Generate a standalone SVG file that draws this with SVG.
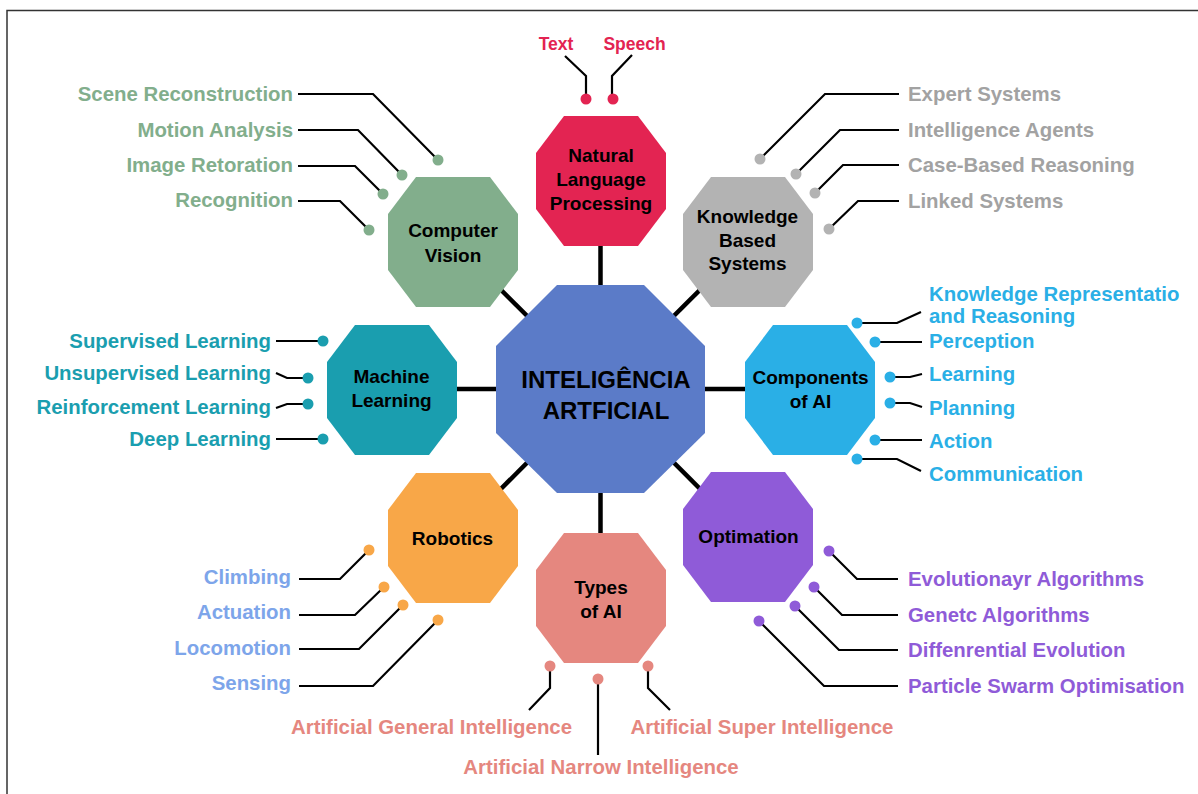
<svg xmlns="http://www.w3.org/2000/svg" width="1198" height="794" viewBox="0 0 1198 794">
  <style>
    text { font-family: "Liberation Sans", Arial, sans-serif; font-weight: bold; }
    .node-label { font-size: 19px; fill: #000; text-anchor: middle; }
    .hub-label { font-size: 24px; fill: #000; text-anchor: middle; }
    .leaf { font-size: 20.4px; }
    .end { text-anchor: end; }
    .mid { text-anchor: middle; }
    .spoke { stroke: #000; stroke-width: 4.5; fill: none; }
    .lead { stroke: #000; stroke-width: 2.2; fill: none; stroke-linejoin: miter; }
    .c-nlp { fill: #E32452; }
    .c-cv { fill: #82AE8C; }
    .c-kbs { fill: #B3B3B3; }
    .c-kbs-t { fill: #A2A2A2; }
    .c-comp { fill: #2AAFE6; }
    .c-opt { fill: #8F5BD8; }
    .c-types { fill: #E5877F; }
    .c-rob { fill: #F8A748; }
    .c-rob-t { fill: #7DA5EA; }
    .c-ml { fill: #1A9EAF; }
    .c-hub { fill: #5B7BC8; }
  </style>
  <defs>
    <!-- satellite octagon, 130 x 130 -->
    <polygon id="oct" points="28,0 102,0 130,37 130,93 102,130 28,130 0,93 0,37"/>
  </defs>

  <rect width="1198" height="794" fill="#fff"/>
  <!-- frame -->
  <path d="M7,794 V10.5 H1198" fill="none" stroke="#333" stroke-width="1.5"/>

  <g id="connectors">
    <!-- hub spokes -->
    <line class="spoke" x1="600.5" y1="389" x2="600.5" y2="181"/>
    <line class="spoke" x1="600.5" y1="389" x2="600.5" y2="598"/>
    <line class="spoke" x1="600.5" y1="389" x2="392" y2="389"/>
    <line class="spoke" x1="600.5" y1="389" x2="810" y2="389"/>
    <line class="spoke" x1="600.5" y1="389" x2="453" y2="242"/>
    <line class="spoke" x1="600.5" y1="389" x2="748" y2="242"/>
    <line class="spoke" x1="600.5" y1="389" x2="453" y2="537"/>
    <line class="spoke" x1="600.5" y1="389" x2="748" y2="537"/>

    <!-- NLP leaders -->
    <polyline class="lead" points="565,56 586,76 586,98"/>
    <polyline class="lead" points="632,55 612,76 612,98"/>
    <circle class="c-nlp" cx="586" cy="99" r="5.5"/>
    <circle class="c-nlp" cx="613" cy="99" r="5.5"/>

    <!-- Computer Vision leaders -->
    <polyline class="lead" points="298,94 373,94 438,160"/>
    <polyline class="lead" points="298,130 358,130 402,175"/>
    <polyline class="lead" points="298,166 355,166 383,194"/>
    <polyline class="lead" points="298,201 340,201 369,230"/>
    <circle class="c-cv" cx="438" cy="160" r="5.5"/>
    <circle class="c-cv" cx="402" cy="175" r="5.5"/>
    <circle class="c-cv" cx="383" cy="194" r="5.5"/>
    <circle class="c-cv" cx="369" cy="230" r="5.5"/>

    <!-- Knowledge Based Systems leaders -->
    <polyline class="lead" points="899,94 825,94 760,159"/>
    <polyline class="lead" points="899,130 840,130 796,174"/>
    <polyline class="lead" points="899,165 843,165 815,193"/>
    <polyline class="lead" points="899,201 858,201 829,229"/>
    <circle class="c-kbs" cx="760" cy="159" r="5.5"/>
    <circle class="c-kbs" cx="796" cy="174" r="5.5"/>
    <circle class="c-kbs" cx="815" cy="193" r="5.5"/>
    <circle class="c-kbs" cx="829" cy="229" r="5.5"/>

    <!-- Components of AI leaders -->
    <polyline class="lead" points="857,323 897,323 921,312"/>
    <polyline class="lead" points="875,342 922,342"/>
    <polyline class="lead" points="890,377 910,377 922,374"/>
    <polyline class="lead" points="890,403 910,403 922,407"/>
    <polyline class="lead" points="875,440 922,440"/>
    <polyline class="lead" points="857,459 897,459 921,471"/>
    <circle class="c-comp" cx="857" cy="323" r="5.5"/>
    <circle class="c-comp" cx="875" cy="342" r="5.5"/>
    <circle class="c-comp" cx="890" cy="377" r="5.5"/>
    <circle class="c-comp" cx="890" cy="403" r="5.5"/>
    <circle class="c-comp" cx="875" cy="440" r="5.5"/>
    <circle class="c-comp" cx="857" cy="459" r="5.5"/>

    <!-- Optimation leaders -->
    <polyline class="lead" points="829,551 857,579 898,579"/>
    <polyline class="lead" points="814,587 842,615 898,615"/>
    <polyline class="lead" points="795,606 839,650 898,650"/>
    <polyline class="lead" points="759,621 824,686 898,686"/>
    <circle class="c-opt" cx="829" cy="551" r="5.5"/>
    <circle class="c-opt" cx="814" cy="587" r="5.5"/>
    <circle class="c-opt" cx="795" cy="606" r="5.5"/>
    <circle class="c-opt" cx="759" cy="621" r="5.5"/>

    <!-- Types of AI leaders -->
    <polyline class="lead" points="550,666 550,688 529,710"/>
    <polyline class="lead" points="598,679 598,755"/>
    <polyline class="lead" points="648,666 648,688 670,710"/>
    <circle class="c-types" cx="550" cy="666" r="5.5"/>
    <circle class="c-types" cx="598" cy="679" r="5.5"/>
    <circle class="c-types" cx="648" cy="666" r="5.5"/>

    <!-- Robotics leaders -->
    <polyline class="lead" points="299,579 340,579 369,550"/>
    <polyline class="lead" points="299,615 355,615 384,587"/>
    <polyline class="lead" points="299,649 359,649 403,605"/>
    <polyline class="lead" points="299,686 373,686 438,620"/>
    <circle class="c-rob" cx="369" cy="550" r="5.5"/>
    <circle class="c-rob" cx="384" cy="587" r="5.5"/>
    <circle class="c-rob" cx="403" cy="605" r="5.5"/>
    <circle class="c-rob" cx="438" cy="620" r="5.5"/>

    <!-- Machine Learning leaders -->
    <polyline class="lead" points="276,341 323,341"/>
    <polyline class="lead" points="276,373 287,378 308,378"/>
    <polyline class="lead" points="276,408 287,404 308,404"/>
    <polyline class="lead" points="276,439 323,439"/>
    <circle class="c-ml" cx="323" cy="341" r="5.5"/>
    <circle class="c-ml" cx="308" cy="378" r="5.5"/>
    <circle class="c-ml" cx="308" cy="404" r="5.5"/>
    <circle class="c-ml" cx="323" cy="439" r="5.5"/>
  </g>

  <g id="hub">
    <polygon class="c-hub" points="557,285 644,285 705,346 705,433 644,493 557,493 496,433 496,346"/>
    <text class="hub-label" x="606" y="388">INTELIGÊNCIA</text>
    <text class="hub-label" x="606" y="419">ARTFICIAL</text>
  </g>

  <g id="nlp">
    <use href="#oct" class="c-nlp" x="536" y="116"/>
    <text class="node-label" x="601" y="162">Natural</text>
    <text class="node-label" x="601" y="186">Language</text>
    <text class="node-label" x="601" y="210">Processing</text>
    <text class="leaf mid c-nlp" x="556" y="50" style="font-size:17.5px">Text</text>
    <text class="leaf mid c-nlp" x="634.5" y="50" style="font-size:17.5px">Speech</text>
  </g>

  <g id="computer-vision">
    <use href="#oct" class="c-cv" x="388" y="177"/>
    <text class="node-label" x="453" y="237">Computer</text>
    <text class="node-label" x="453" y="262">Vision</text>
    <text class="leaf end c-cv" x="293" y="101">Scene Reconstruction</text>
    <text class="leaf end c-cv" x="293" y="137">Motion Analysis</text>
    <text class="leaf end c-cv" x="293" y="172">Image Retoration</text>
    <text class="leaf end c-cv" x="293" y="207">Recognition</text>
  </g>

  <g id="knowledge-based-systems">
    <use href="#oct" class="c-kbs" x="683" y="177"/>
    <text class="node-label" x="747.5" y="223">Knowledge</text>
    <text class="node-label" x="747.5" y="247">Based</text>
    <text class="node-label" x="747.5" y="270">Systems</text>
    <text class="leaf c-kbs-t" x="908" y="101">Expert Systems</text>
    <text class="leaf c-kbs-t" x="908" y="137">Intelligence Agents</text>
    <text class="leaf c-kbs-t" x="908" y="172">Case-Based Reasoning</text>
    <text class="leaf c-kbs-t" x="908" y="208">Linked Systems</text>
  </g>

  <g id="components-of-ai">
    <use href="#oct" class="c-comp" x="745" y="325"/>
    <text class="node-label" x="810.5" y="384">Components</text>
    <text class="node-label" x="810.5" y="408">of AI</text>
    <text class="leaf c-comp" x="929" y="301">Knowledge Representatio</text>
    <text class="leaf c-comp" x="929" y="323">and Reasoning</text>
    <text class="leaf c-comp" x="929" y="348">Perception</text>
    <text class="leaf c-comp" x="929" y="381">Learning</text>
    <text class="leaf c-comp" x="929" y="415">Planning</text>
    <text class="leaf c-comp" x="929" y="448">Action</text>
    <text class="leaf c-comp" x="929" y="481">Communication</text>
  </g>

  <g id="optimation">
    <use href="#oct" class="c-opt" x="683" y="472"/>
    <text class="node-label" x="748.5" y="543">Optimation</text>
    <text class="leaf c-opt" x="908" y="586">Evolutionayr Algorithms</text>
    <text class="leaf c-opt" x="908" y="622">Genetc Algorithms</text>
    <text class="leaf c-opt" x="908" y="657">Diffenrential Evolution</text>
    <text class="leaf c-opt" x="908" y="693">Particle Swarm Optimisation</text>
  </g>

  <g id="types-of-ai">
    <use href="#oct" class="c-types" x="536" y="533"/>
    <text class="node-label" x="601" y="594">Types</text>
    <text class="node-label" x="601" y="618">of AI</text>
    <text class="leaf mid c-types" x="431.5" y="734">Artificial General Intelligence</text>
    <text class="leaf mid c-types" x="601" y="774">Artificial Narrow Intelligence</text>
    <text class="leaf mid c-types" x="762" y="734">Artificial Super Intelligence</text>
  </g>

  <g id="robotics">
    <use href="#oct" class="c-rob" x="388" y="473"/>
    <text class="node-label" x="452.5" y="545">Robotics</text>
    <text class="leaf end c-rob-t" x="291" y="584">Climbing</text>
    <text class="leaf end c-rob-t" x="291" y="619">Actuation</text>
    <text class="leaf end c-rob-t" x="291" y="655">Locomotion</text>
    <text class="leaf end c-rob-t" x="291" y="690">Sensing</text>
  </g>

  <g id="machine-learning">
    <use href="#oct" class="c-ml" x="327" y="325"/>
    <text class="node-label" x="391.5" y="383">Machine</text>
    <text class="node-label" x="391.5" y="407">Learning</text>
    <text class="leaf end c-ml" x="271" y="348">Supervised Learning</text>
    <text class="leaf end c-ml" x="271" y="380">Unsupervised Learning</text>
    <text class="leaf end c-ml" x="271" y="414">Reinforcement Learning</text>
    <text class="leaf end c-ml" x="271" y="446">Deep Learning</text>
  </g>
</svg>
